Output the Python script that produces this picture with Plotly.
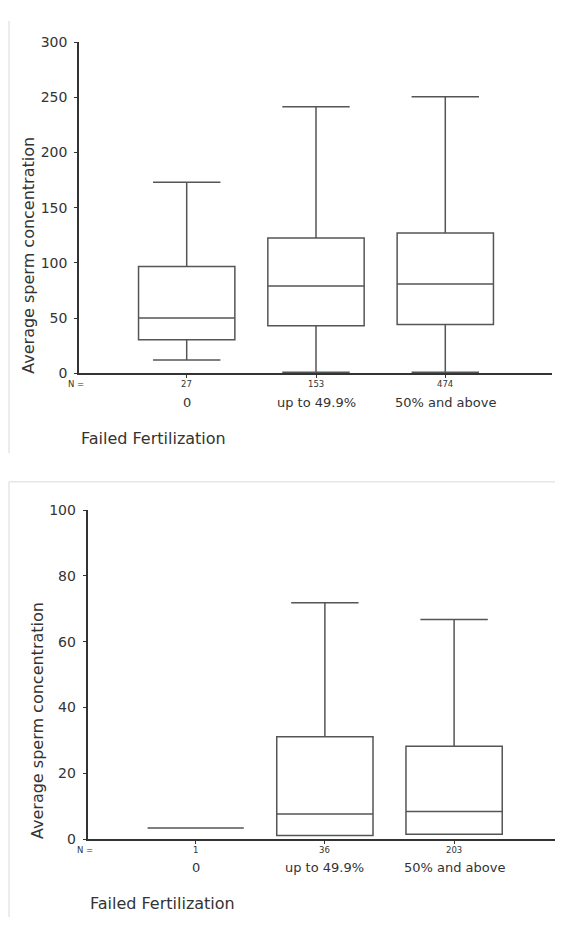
import plotly.graph_objects as go

# ---- data ----
categories = ["0", "up to 49.9%", "50% and above"]

top_n = ["27", "153", "474"]
top_lower = [12, 1, 1]
top_q1 = [30.5, 43, 44.3]
top_median = [50.2, 79, 80.8]
top_q3 = [96.7, 122.6, 127.1]
top_upper = [173, 241.5, 250.5]

bot_n = ["1", "36", "203"]
bot_lower = [3.4, 1.1, 1.5]
bot_q1 = [3.4, 1.1, 1.5]
bot_median = [3.4, 7.6, 8.4]
bot_q3 = [3.4, 31.1, 28.2]
bot_upper = [3.4, 71.9, 66.8]

x_title = "Failed Fertilization"
y_title = "Average sperm concentration"

FONT = "DejaVu Sans"
BOXC = "#555555"
AXC = "#333333"
TXT = "#333333"

# page body has an 8px default margin; lay out in window pixels and convert
OFF = 8
W = 563 - OFF
H = 925 - OFF

def px(xw):
    return (xw - OFF) / W

def py(yw):
    return 1 - (yw - OFF) / H

pos = list(range(len(categories)))

fig = go.Figure()

def add_box(q1, med, q3, lo, hi, xa, ya):
    fig.add_trace(go.Box(
        x=pos, q1=q1, median=med, q3=q3, lowerfence=lo, upperfence=hi,
        width=0.745, whiskerwidth=0.7, boxpoints=False,
        fillcolor="white", line=dict(color=BOXC, width=1.5),
        xaxis=xa, yaxis=ya, showlegend=False, hoverinfo="skip"))

add_box(top_q1, top_median, top_q3, top_lower, top_upper, "x", "y")
add_box(bot_q1, bot_median, bot_q3, bot_lower, bot_upper, "x2", "y2")

ax_common = dict(showgrid=False, zeroline=False, showline=True, linecolor=AXC, linewidth=1.5,
                 ticks="outside", ticklen=3, tickcolor=AXC, tickwidth=1)

fig.update_layout(
    width=W, height=H, margin=dict(l=0, r=0, t=0, b=0),
    paper_bgcolor="white", plot_bgcolor="white",
    font=dict(family=FONT, color=TXT),
    xaxis=dict(domain=[px(79), px(551.7)], range=[-0.833, 2.823], anchor="y",
               tickvals=pos, showticklabels=False, **ax_common),
    yaxis=dict(domain=[py(371.7), py(34.5)], range=[0, 300], anchor="x",
               tickvals=[0, 50, 100, 150, 200, 250, 300],
               tickfont=dict(size=14, color=TXT), ticklabelstandoff=4,
               **ax_common),
    xaxis2=dict(domain=[px(87.5), min(1.0, px(562))], range=[-0.837, 2.835], anchor="y2",
                tickvals=pos, showticklabels=False, **ax_common),
    yaxis2=dict(domain=[py(845.7), py(511)], range=[0, 100], anchor="x2",
                tickvals=[0, 20, 40, 60, 80, 100],
                tickfont=dict(size=14, color=TXT), ticklabelstandoff=4,
                **ax_common),
)

def panel_text(xref, n_list, y_n, y_cat, y_xt, x_left, ytitle_x, ytitle_y):
    fig.add_annotation(text="N =", xref="paper", yref="paper", x=px(x_left - 3), y=py(y_n),
                       showarrow=False, font=dict(size=8.5, color=TXT), xanchor="center", yanchor="middle")
    for i, (c, n) in enumerate(zip(categories, n_list)):
        fig.add_annotation(text=n, xref=xref, yref="paper", x=i, y=py(y_n), showarrow=False,
                           font=dict(size=8.5, color=TXT), yanchor="middle")
        fig.add_annotation(text=c, xref=xref, yref="paper", x=i, y=py(y_cat), showarrow=False,
                           font=dict(size=13, color=TXT), yanchor="middle")
    fig.add_annotation(text=x_title, xref="paper", yref="paper", x=px(x_left), y=py(y_xt),
                       showarrow=False, font=dict(size=16, color=TXT),
                       xanchor="left", yanchor="middle")
    fig.add_annotation(text=y_title, xref="paper", yref="paper", x=px(ytitle_x), y=py(ytitle_y),
                       showarrow=False, textangle=-90, font=dict(size=16, color=TXT),
                       xanchor="center", yanchor="middle")

panel_text("x", top_n, 383, 401, 437.5, 79, 28.5, 251.5)
panel_text("x2", bot_n, 857, 875, 911.5, 88, 37.5, 725)

# light frame lines of the original screenshot panels
frame = dict(color="#e6e6e6", width=1.5)
fig.add_shape(type="line", xref="paper", yref="paper", x0=px(9), x1=px(9), y0=py(13), y1=py(453), line=frame)
fig.add_shape(type="line", xref="paper", yref="paper", x0=px(9), x1=1, y0=py(482), y1=py(482), line=frame)
fig.add_shape(type="line", xref="paper", yref="paper", x0=px(9), x1=px(9), y0=py(482), y1=0, line=frame)

fig.write_html("out.html")
